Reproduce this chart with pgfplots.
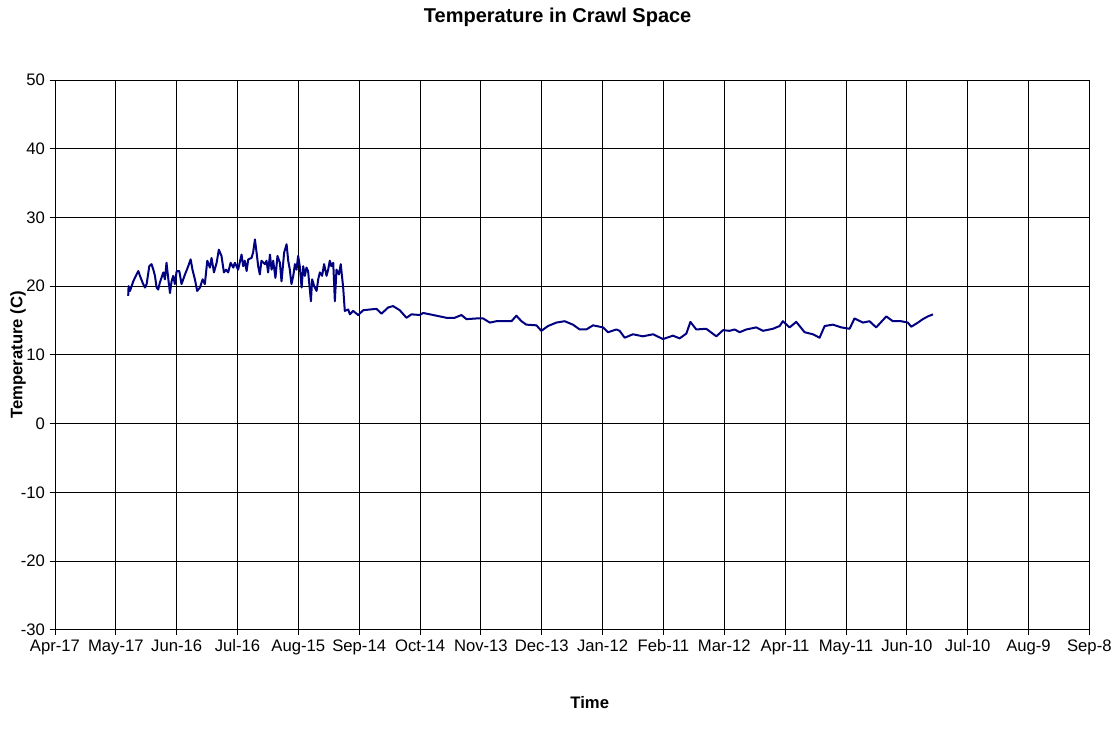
\documentclass[border=0pt]{standalone}
\usepackage{pgfplots}
\pgfplotsset{compat=1.18}
\usepackage{fontspec}
\setmainfont{Liberation Sans}
\definecolor{linenavy}{RGB}{0,0,128}

\begin{document}
\begin{tikzpicture}
\begin{axis}[
    scale only axis,
    width=776pt, height=412.5pt,
    xmin=0, xmax=510,
    ymin=-30, ymax=50,
    xtick={0,30,...,510},
    xticklabels={Apr-17,May-17,Jun-16,Jul-16,Aug-15,Sep-14,Oct-14,Nov-13,Dec-13,Jan-12,Feb-11,Mar-12,Apr-11,May-11,Jun-10,Jul-10,Aug-9,Sep-8},
    ytick={-30,-20,...,50},
    /pgf/number format/assume math mode=true,
    tick label style={font=\fontsize{12.5}{15}\selectfont},
    tick align=outside,
    major tick length=4pt,
    xtick pos=bottom, ytick pos=left,
    grid=major,
    major grid style={black, line width=0.6pt},
    axis line style={black, line width=0.6pt},
    tick style={black, line width=0.6pt},
    clip=false,
]
% daily-ish readings, x = days after Apr-17
\addplot[color=linenavy, line width=1.5pt, mark=none, line join=round] coordinates {
    (36.1,18.6) (36.3,20.0) (37.0,19.3) (38.6,20.7) (40.2,21.7) (41.1,22.2) (41.9,21.5)
    (43.5,20.3) (44.4,19.8) (45.2,20.3) (46.5,22.9) (47.6,23.2) (48.5,22.4) (49.3,21.5)
    (50.1,19.8) (50.9,19.5) (51.7,20.5) (53.4,22.0) (54.2,21.0) (55.0,23.4) (55.9,21.0)
    (56.7,19.0) (57.5,20.7) (58.3,21.5) (59.1,20.3) (60.0,22.2) (61.3,22.2) (62.4,20.3)
    (64.1,21.7) (65.7,22.9) (66.9,23.9) (67.8,22.4) (69.0,21.0) (70.1,19.3) (71.5,19.8)
    (72.8,21.0) (73.9,20.3) (75.1,23.7) (76.4,22.7) (77.2,24.1) (78.4,22.0) (79.7,23.4)
    (80.8,25.3) (82.1,24.4) (83.3,22.0) (84.3,22.4) (85.4,22.0) (86.6,23.4) (87.9,22.7)
    (88.7,23.4) (90.3,22.4) (92.0,24.6) (92.8,22.9) (93.6,23.7) (94.5,22.2) (95.3,23.9)
    (96.9,24.1) (97.7,24.9) (98.6,26.8) (99.4,24.9) (100.2,22.9) (101.0,21.7) (101.8,23.7)
    (103.5,23.2) (104.3,23.7) (105.1,22.0) (106.0,24.6) (106.8,22.4) (107.6,23.7) (108.7,21.2)
    (109.7,24.4) (110.9,23.4) (111.7,20.7) (113.0,24.9) (114.2,26.1) (115.0,23.7) (115.8,22.4)
    (116.6,20.3) (117.5,21.5) (118.3,23.2) (119.1,22.4) (119.9,24.4) (120.7,22.9) (121.6,19.8)
    (122.4,22.9) (123.2,21.5) (124.0,22.7) (124.8,22.2) (126.2,17.8) (126.8,21.0) (127.8,20.0)
    (129.0,19.3) (129.8,21.0) (130.6,22.0) (131.7,21.5) (132.7,23.2) (133.9,21.5) (134.7,22.4)
    (135.5,23.7) (136.3,22.9) (137.2,23.4) (138.0,17.8) (138.8,22.4) (140.0,21.7) (140.9,23.2)
    (142.1,19.8) (142.9,16.4) (144.6,16.6) (145.4,15.9) (147.0,16.4) (149.5,15.8) (152.0,16.5)
    (155.2,16.6) (158.5,16.7) (161.0,16.0) (164.3,16.9) (166.7,17.1) (170.0,16.5) (173.3,15.4)
    (175.8,15.9) (179.9,15.8) (181.5,16.1) (186.5,15.8) (189.7,15.6) (193.0,15.4) (197.1,15.4)
    (200.4,15.8) (202.9,15.2) (207.8,15.3) (211.1,15.3) (214.4,14.7) (217.7,14.9) (222.6,14.9)
    (225.1,14.9) (227.5,15.7) (230.0,14.9) (232.4,14.4) (237.4,14.3) (239.8,13.5) (243.1,14.2)
    (247.2,14.7) (251.3,14.9) (255.4,14.4) (258.7,13.7) (262.0,13.7) (265.3,14.3) (270.2,14.0)
    (272.7,13.3) (276.8,13.7) (278.4,13.5) (280.9,12.5) (285.0,13.0) (289.9,12.7) (294.9,13.0)
    (299.8,12.3) (304.7,12.8) (308.0,12.4) (311.3,13.1) (313.3,14.8) (316.2,13.7) (321.1,13.8)
    (326.1,12.7) (329.4,13.6) (332.6,13.5) (335.1,13.7) (337.6,13.3) (340.9,13.7) (345.8,14.0)
    (349.1,13.5) (354.0,13.8) (357.3,14.2) (358.9,14.9) (362.2,14.0) (365.5,14.8) (369.6,13.3)
    (373.7,13.0) (377.0,12.5) (379.5,14.2) (383.6,14.4) (387.7,14.0) (391.8,13.8) (394.2,15.3)
    (398.4,14.7) (401.6,14.9) (404.9,14.0) (409.9,15.6) (413.1,14.9) (417.2,14.9) (420.5,14.7)
    (422.2,14.1) (425.5,14.7) (427.9,15.2) (430.4,15.6) (432.9,15.9)
};
\node[font=\bfseries\fontsize{15}{18}\selectfont] at (axis description cs:0.486,1.113) {Temperature in Crawl Space};
\node[font=\bfseries\fontsize{12.5}{15}\selectfont] at (axis description cs:0.517,-0.133) {Time};
\node[font=\bfseries\fontsize{12.5}{15}\selectfont, rotate=90] at (axis description cs:-0.0357,0.5) {Temperature (C)};
\path (axis description cs:-0.05314,-0.2) rectangle (axis description cs:1.02512,1.14545);
\end{axis}
\end{tikzpicture}
\end{document}
